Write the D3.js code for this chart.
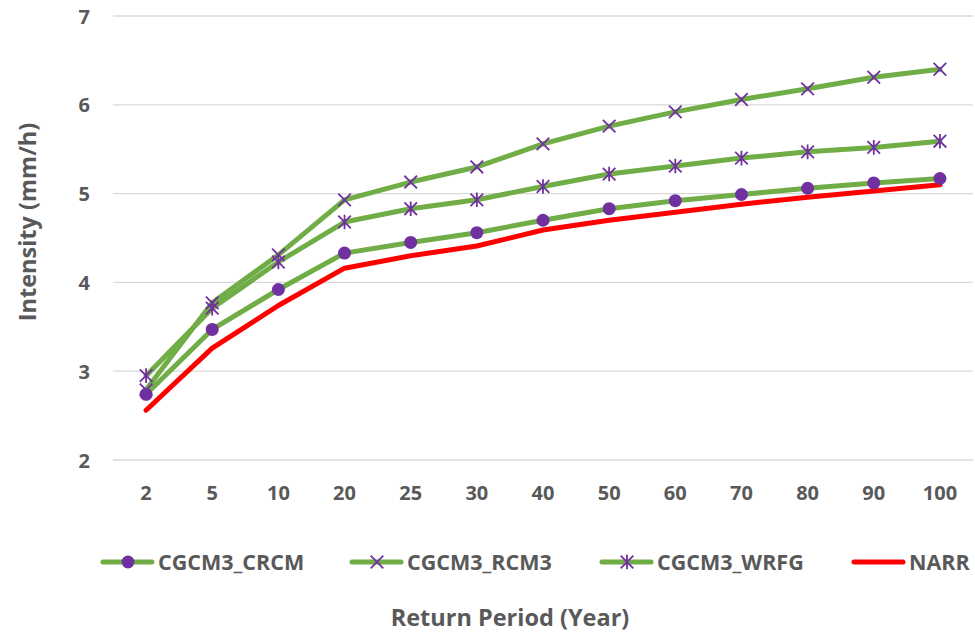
<!DOCTYPE html>
<html lang="en">
<head>
    <meta charset="UTF-8">
    <title>Intensity vs Return Period</title>
    <script src="https://d3js.org/d3.v7.min.js"></script>
    <style>
        body { margin: 0; background: #fff; }
        text { font-family: "Open Sans", "Liberation Sans", sans-serif; font-weight: bold; fill: #595959; }
    </style>
</head>
<body>
    <div id="chart"></div>

    <script>
        // Data
        const returnPeriods = ["2", "5", "10", "20", "25", "30", "40", "50", "60", "70", "80", "90", "100"];
        const crcm = [2.74, 3.47, 3.92, 4.33, 4.45, 4.56, 4.70, 4.83, 4.92, 4.99, 5.06, 5.12, 5.17];
        const rcm3 = [2.79, 3.77, 4.31, 4.93, 5.13, 5.30, 5.56, 5.76, 5.92, 6.06, 6.18, 6.31, 6.40];
        const wrfg = [2.95, 3.71, 4.23, 4.68, 4.83, 4.93, 5.08, 5.22, 5.31, 5.40, 5.47, 5.52, 5.59];
        const narr = [2.56, 3.26, 3.74, 4.16, 4.30, 4.41, 4.59, 4.70, 4.79, 4.88, 4.96, 5.03, 5.10];
        const yTicks = [2, 3, 4, 5, 6, 7];

        const series = [
            { name: "CGCM3_CRCM", values: crcm, color: "#70AD47", marker: "circle" },
            { name: "CGCM3_RCM3", values: rcm3, color: "#70AD47", marker: "x" },
            { name: "CGCM3_WRFG", values: wrfg, color: "#70AD47", marker: "star" },
            { name: "NARR", values: narr, color: "#FF0000", marker: "none" }
        ];

        const width = 975;
        const height = 634;
        const margin = { top: 16, right: 2, bottom: 174, left: 113 };
        const markerColor = "#7030A0";

        const svg = d3.select("#chart")
            .append("svg")
            .attr("width", width)
            .attr("height", height);

        const x = d3.scaleBand()
            .domain(returnPeriods)
            .range([margin.left, width - margin.right]);

        const y = d3.scaleLinear()
            .domain([2, 7])
            .range([height - margin.bottom, margin.top]);

        // Gridlines
        svg.append("g")
            .selectAll("line")
            .data(yTicks)
            .join("line")
            .attr("x1", margin.left)
            .attr("x2", width - margin.right)
            .attr("y1", d => y(d))
            .attr("y2", d => y(d))
            .attr("stroke", "#D9D9D9")
            .attr("stroke-width", 1.3);

        // Y axis labels
        const yAxis = svg.append("g")
            .attr("transform", `translate(${margin.left - 23},0)`)
            .call(d3.axisLeft(y).tickValues(yTicks).tickFormat(d3.format("d")).tickSize(0).tickPadding(0));
        yAxis.select(".domain").remove();
        yAxis.selectAll("text").attr("font-size", 20).attr("fill", "#595959")
            .attr("font-family", null).attr("dy", "0.35em");

        // X axis labels
        const xAxis = svg.append("g")
            .attr("transform", `translate(0,${y(2) + 33})`)
            .call(d3.axisBottom(x).tickSize(0).tickPadding(0));
        xAxis.select(".domain").remove();
        xAxis.selectAll("text").attr("font-size", 20).attr("fill", "#595959")
            .attr("font-family", null).attr("dy", "0.35em");

        const cx = (d, i) => x(returnPeriods[i]) + x.bandwidth() / 2;

        const line = d3.line()
            .x((d, i) => cx(d, i))
            .y(d => y(d));

        // red first so the green lines sit on top of it
        const drawOrder = [series[3], series[0], series[2], series[1]];

        function drawMarker(g, type, px, py) {
            if (type === "circle") {
                g.append("circle").attr("cx", px).attr("cy", py).attr("r", 6.5)
                    .attr("fill", markerColor);
            } else if (type === "x" || type === "star") {
                const s = 6.3;
                g.append("path")
                    .attr("d", `M${px - s},${py - s}L${px + s},${py + s}M${px - s},${py + s}L${px + s},${py - s}` +
                        (type === "star" ? `M${px},${py - s - 1}L${px},${py + s + 1}` : ""))
                    .attr("stroke", markerColor)
                    .attr("stroke-width", 1.8)
                    .attr("fill", "none");
            }
        }

        drawOrder.forEach(s => {
            svg.append("path")
                .datum(s.values)
                .attr("d", line)
                .attr("fill", "none")
                .attr("stroke", s.color)
                .attr("stroke-width", 5)
                .attr("stroke-linejoin", "round")
                .attr("stroke-linecap", "round");
        });
        drawOrder.forEach(s => {
            const g = svg.append("g");
            s.values.forEach((v, i) => drawMarker(g, s.marker, cx(v, i), y(v)));
        });

        // Legend
        const legendX = [103, 352, 602, 854];
        const legendY = 562;
        series.forEach((s, i) => {
            const g = svg.append("g").attr("transform", `translate(${legendX[i]},${legendY})`);
            g.append("line")
                .attr("x1", 0).attr("x2", 49)
                .attr("y1", 0).attr("y2", 0)
                .attr("stroke", s.color)
                .attr("stroke-width", 5)
                .attr("stroke-linecap", "round");
            drawMarker(g, s.marker, 25, 0);
            g.append("text")
                .attr("x", 55)
                .attr("y", 0)
                .attr("dy", "0.35em")
                .attr("font-size", 21.5)
                .text(s.name);
        });

        // Axis titles
        svg.append("text")
            .attr("x", 510)
            .attr("y", 618)
            .attr("dy", "0.35em")
            .attr("text-anchor", "middle")
            .attr("font-size", 23.5)
            .text("Return Period (Year)");

        svg.append("text")
            .attr("transform", `translate(28,222) rotate(-90)`)
            .attr("dy", "0.35em")
            .attr("text-anchor", "middle")
            .attr("font-size", 23.5)
            .text("Intensity (mm/h)");
    </script>
</body>
</html>
